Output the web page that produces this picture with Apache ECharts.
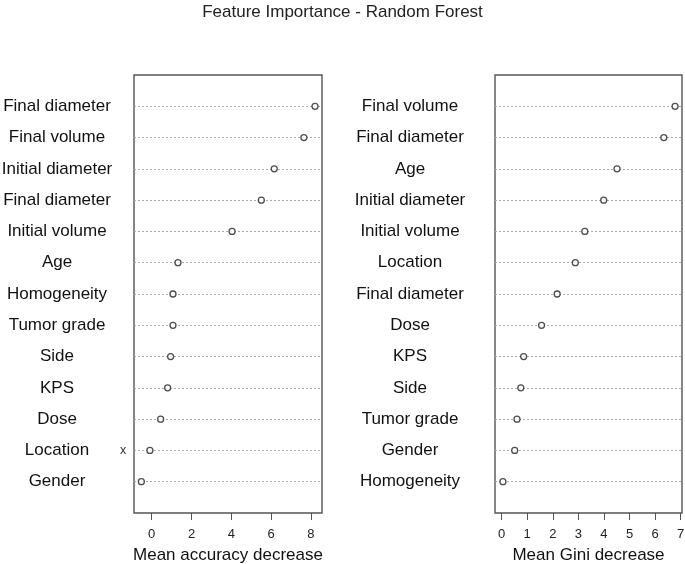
<!DOCTYPE html>
<html>
<head>
<meta charset="utf-8">
<script src="https://cdn.jsdelivr.net/npm/echarts@6/dist/echarts.min.js"></script>
<style>
  html, body { margin: 0; padding: 0; background: #fff; }
  #chart { width: 685px; height: 564px; }
</style>
</head>
<body>
<div id="chart"></div>
<script>
// feature names, top row first
const accFeatures = [
  "Final diameter", "Final volume", "Initial diameter", "Final diameter",
  "Initial volume", "Age", "Homogeneity", "Tumor grade", "Side", "KPS",
  "Dose", "Location", "Gender",
];
const accValues = [8.21, 7.65, 6.16, 5.51, 4.04, 1.32, 1.07, 1.07, 0.95, 0.8, 0.45, -0.09, -0.52];

const giniFeatures = [
  "Final volume", "Final diameter", "Age", "Initial diameter", "Initial volume",
  "Location", "Final diameter", "Dose", "KPS", "Side", "Tumor grade",
  "Gender", "Homogeneity",
];
const giniValues = [6.78, 6.34, 4.51, 3.99, 3.25, 2.88, 2.17, 1.56, 0.86, 0.75, 0.6, 0.51, 0.05];

const accTicks = [0, 2, 4, 6, 8];
const giniTicks = [0, 1, 2, 3, 4, 5, 6, 7];

const FONT = "'Liberation Sans', Arial, sans-serif";
const nRows = accFeatures.length;

const toPoints = (vals) => vals.map((v, i) => [v, nRows - i]);
const labelFor = (names) => (v) => {
  const i = nRows - v;
  return i >= 0 && i < nRows && v > 0 ? names[i] : "";
};

const chart = echarts.init(document.getElementById("chart"));

const xAxisBase = (gridIndex, min, max, ticks, name) => ({
  type: "value",
  gridIndex,
  min,
  max,
  name,
  nameLocation: "middle",
  nameGap: 34,
  nameTextStyle: { fontFamily: FONT, fontSize: 17, color: "#111" },
  axisLine: { show: false },
  axisTick: {
    show: true,
    length: 7,
    customValues: ticks,
    lineStyle: { color: "#555", width: 1 },
  },
  axisLabel: {
    customValues: ticks,
    margin: 15,
    fontFamily: FONT,
    fontSize: 13,
    color: "#222",
  },
  splitLine: { show: false },
});

const yAxisBase = (gridIndex, names, margin) => ({
  type: "value",
  gridIndex,
  min: 0,
  max: nRows + 1,
  interval: 1,
  axisLine: { show: false },
  axisTick: { show: false },
  axisLabel: {
    formatter: labelFor(names),
    align: "center",
    margin,
    fontFamily: FONT,
    fontSize: 17,
    color: "#111",
  },
  splitLine: {
    show: true,
    showMinLine: false,
    showMaxLine: false,
    lineStyle: { type: [2, 2], color: "#aaa", width: 1 },
  },
});

const pointSeries = (idx, data) => ({
  type: "scatter",
  xAxisIndex: idx,
  yAxisIndex: idx,
  data,
  symbol: "circle",
  symbolSize: 6,
  itemStyle: { color: "#fff", borderColor: "#222", borderWidth: 1.3 },
  silent: true,
  z: 5,
});

const gridBase = (left, width) => ({
  left,
  top: 75,
  width,
  height: 438,
  outerBoundsMode: "none",
  containLabel: false,
  show: true,
  borderColor: "#555",
  borderWidth: 1.4,
  backgroundColor: "transparent",
});

chart.setOption({
  animation: false,
  title: {
    text: "Feature Importance - Random Forest",
    left: "center",
    top: -1,
    textStyle: { fontFamily: FONT, fontSize: 17, fontWeight: "normal", color: "#222" },
  },
  grid: [gridBase(134, 188), gridBase(495, 187)],
  xAxis: [
    xAxisBase(0, -0.89, 8.56, accTicks, "Mean accuracy decrease"),
    xAxisBase(1, -0.26, 7.05, giniTicks, "Mean Gini decrease"),
  ],
  yAxis: [
    yAxisBase(0, accFeatures, 77),
    yAxisBase(1, giniFeatures, 85),
  ],
  series: [
    pointSeries(0, toPoints(accValues)),
    pointSeries(1, toPoints(giniValues)),
  ],
  graphic: [
    {
      type: "text",
      left: 120,
      top: 444,
      style: { text: "x", fontFamily: FONT, fontSize: 12.5, fill: "#333" },
    },
  ],
});
</script>
</body>
</html>
